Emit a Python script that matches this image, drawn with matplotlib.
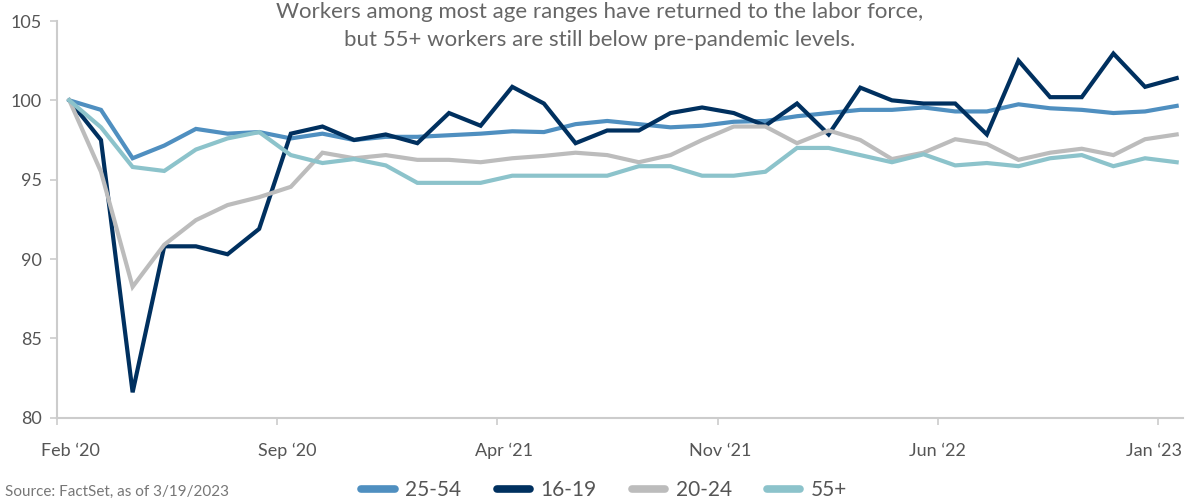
import numpy as np
import pandas as pd
import matplotlib
matplotlib.use("Agg")
import matplotlib.pyplot as plt
from matplotlib.ticker import FixedLocator

plt.rcParams['font.family'] = ['Lato', 'DejaVu Sans']

# monthly index (Feb 2020 = 100), Feb '20 .. Jan '23
months = pd.date_range('2020-02-01', periods=36, freq='MS')

age_25_54 = [100.0, 99.4, 96.35, 97.15, 98.2, 97.9, 98.0, 97.6, 97.9, 97.5, 97.7, 97.7,
             97.8, 97.9, 98.05, 98.0, 98.5, 98.7, 98.5, 98.3, 98.4, 98.65, 98.7, 99.0,
             99.2, 99.4, 99.4, 99.55, 99.3, 99.3, 99.75, 99.5, 99.4, 99.2, 99.3, 99.65]
age_16_19 = [100.0, 97.5, 81.6, 90.8, 90.8, 90.3, 91.9, 97.9, 98.35, 97.5, 97.85, 97.3,
             99.2, 98.4, 100.85, 99.8, 97.3, 98.1, 98.1, 99.2, 99.55, 99.2, 98.4, 99.8,
             97.85, 100.8, 100.0, 99.8, 99.8, 97.85, 102.5, 100.2, 100.2, 102.95, 100.85, 101.4]
age_20_24 = [100.0, 95.5, 88.25, 90.9, 92.45, 93.4, 93.9, 94.55, 96.7, 96.35, 96.55, 96.25,
             96.25, 96.1, 96.35, 96.5, 96.7, 96.55, 96.1, 96.55, 97.5, 98.35, 98.35, 97.3,
             98.1, 97.5, 96.3, 96.7, 97.55, 97.25, 96.25, 96.7, 96.95, 96.55, 97.55, 97.85]
age_55_plus = [100.0, 98.3, 95.8, 95.55, 96.9, 97.6, 98.0, 96.55, 96.05, 96.3, 95.9, 94.8,
               94.8, 94.8, 95.25, 95.25, 95.25, 95.25, 95.85, 95.85, 95.25, 95.25, 95.5, 97.0,
               97.0, 96.55, 96.1, 96.6, 95.9, 96.05, 95.85, 96.35, 96.55, 95.85, 96.35, 96.1]

series_names = ['25-54', '16-19', '20-24', '55+']
series_data = [age_25_54, age_16_19, age_20_24, age_55_plus]
colors = ['#4f8fc0', '#00305f', '#bcbcbc', '#8cc3cb']

tick_labels = ['Feb \u201820', 'Sep \u201820', 'Apr \u201821', 'Nov \u201821', 'Jun \u201822', 'Jan \u201823']
y_ticks = [80, 85, 90, 95, 100, 105]

fig = plt.figure(figsize=(11.87, 5.0), dpi=100)
ax = fig.add_axes([57 / 1187, 1 - 417.7 / 500, (1183 - 57) / 1187, (417.7 - 21) / 500])

x = np.arange(len(months))
for name, vals, c in zip(series_names, series_data, colors):
    ax.plot(x, vals, color=c, linewidth=3, label=name, solid_joinstyle='miter')

ax.set_xlim(-0.39, 35.2)
ax.set_ylim(80, 105)

# tick marks sit at month boundaries, labels slightly offset like the original
ax.xaxis.set_minor_locator(FixedLocator(np.linspace(-0.39, 34.41, 6)))
ax.set_xticks(np.linspace(0.02, 34.28, 6))
ax.set_xticklabels(tick_labels)
ax.tick_params(axis='x', which='major', length=0, pad=18, labelsize=13, labelcolor='#555555')
ax.tick_params(axis='x', which='minor', length=5, width=1.2, color='#cccccc')

ax.set_yticks(y_ticks)
ax.tick_params(axis='y', length=5, width=1.2, color='#cccccc', pad=6,
               labelsize=13, labelcolor='#555555')

for s in ['top', 'right']:
    ax.spines[s].set_visible(False)
for s in ['left', 'bottom']:
    ax.spines[s].set_color('#cccccc')
    ax.spines[s].set_linewidth(1.5)

fig.text(0.505, 0.948, 'Workers among most age ranges have returned to the labor force,\n'
         'but 55+ workers are still below pre-pandemic levels.',
         ha='center', va='center', fontsize=16, color='#666666', linespacing=1.5)

handles = [plt.Line2D([], [], color=c, linewidth=5.5, solid_capstyle='round') for c in colors]
fig.legend(handles, series_names, loc='center', bbox_to_anchor=(0.509, 0.02), ncol=4,
           frameon=False, fontsize=15, handlelength=1.6, handletextpad=0.5,
           columnspacing=1.7, labelcolor='#555555')

fig.text(0.004, 0.003, 'Source: FactSet, as of 3/19/2023', ha='left', va='bottom',
         fontsize=11, color='#777777')

fig.savefig('out.png', dpi=100)
